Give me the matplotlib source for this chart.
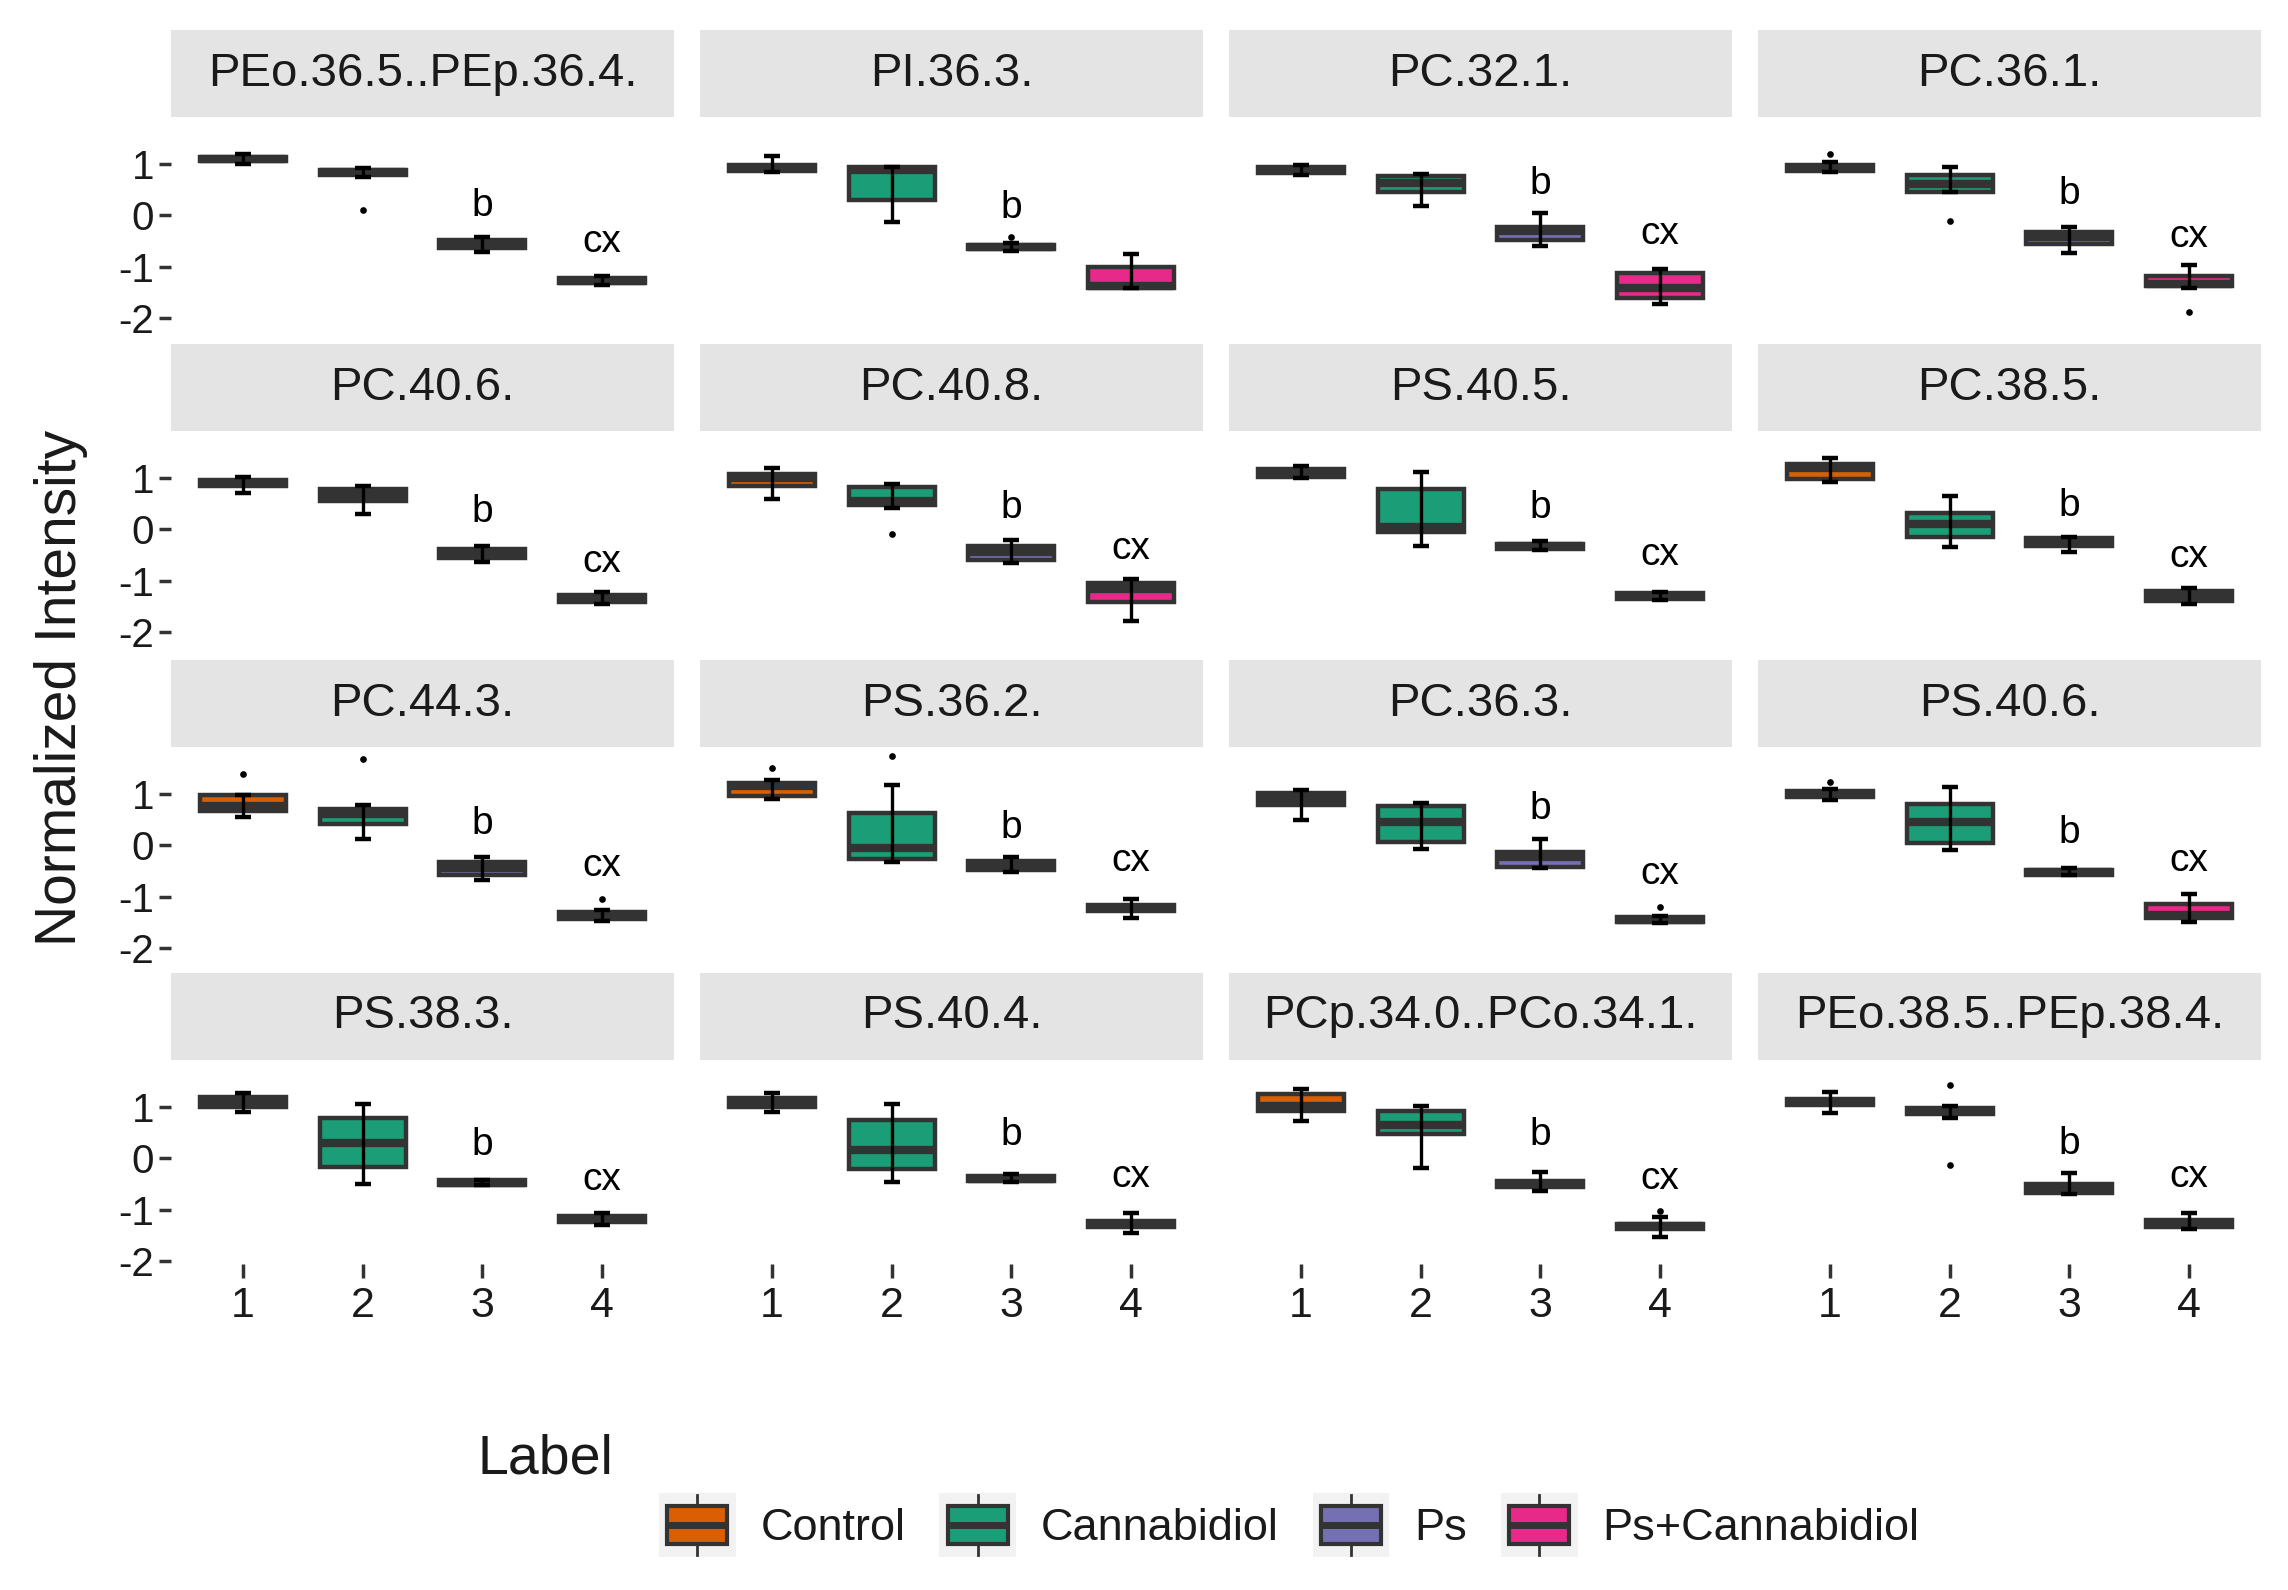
import matplotlib
matplotlib.use("Agg")
import matplotlib.pyplot as plt
from matplotlib.patches import Rectangle, Patch
from matplotlib.lines import Line2D
from matplotlib.legend_handler import HandlerBase

plt.rcParams['font.family'] = ['Liberation Sans', 'DejaVu Sans']
plt.rcParams['axes.unicode_minus'] = False

# ---------------- data ----------------
PANELS = ["PEo.36.5..PEp.36.4.", "PI.36.3.", "PC.32.1.", "PC.36.1.",
          "PC.40.6.", "PC.40.8.", "PS.40.5.", "PC.38.5.",
          "PC.44.3.", "PS.36.2.", "PC.36.3.", "PS.40.6.",
          "PS.38.3.", "PS.40.4.", "PCp.34.0..PCo.34.1.", "PEo.38.5..PEp.38.4."]
GROUPS = ["Control", "Cannabidiol", "Ps", "Ps+Cannabidiol"]
GROUP_COLORS = ["#D95F02", "#1B9E77", "#7570B3", "#E7298A"]
X_TICKS = [1, 2, 3, 4]
Y_TICKS = [1, 0, -1, -2]

Q1 = [[1.06, 0.79, -0.64, -1.31], [0.86, 0.30, -0.66, -1.42], [0.82, 0.45, -0.48, -1.62], [0.86, 0.45, -0.55, -1.38],
      [0.85, 0.56, -0.55, -1.42], [0.84, 0.47, -0.60, -1.42], [1.03, -0.05, -0.38, -1.35], [0.98, -0.15, -0.33, -1.40],
      [0.67, 0.42, -0.58, -1.43], [0.97, -0.26, -0.48, -1.28], [0.78, 0.06, -0.43, -1.50], [0.94, 0.04, -0.57, -1.42],
      [1.00, -0.17, -0.52, -1.24], [1.01, -0.20, -0.44, -1.33], [0.92, 0.47, -0.55, -1.37], [1.05, 0.86, -0.68, -1.33]]
MEDIAN = [[1.10, 0.84, -0.56, -1.27], [0.93, 0.88, -0.61, -1.38], [0.88, 0.63, -0.31, -1.41], [0.93, 0.62, -0.43, -1.33],
          [0.91, 0.68, -0.47, -1.35], [1.00, 0.55, -0.45, -1.16], [1.10, 0.05, -0.33, -1.30], [1.20, 0.10, -0.25, -1.30],
          [0.77, 0.61, -0.45, -1.37], [1.15, -0.05, -0.38, -1.22], [0.90, 0.45, -0.23, -1.46], [1.00, 0.45, -0.52, -1.35],
          [1.10, 0.30, -0.47, -1.18], [1.10, 0.16, -0.40, -1.28], [1.02, 0.65, -0.50, -1.32], [1.10, 0.93, -0.58, -1.27]]
Q3 = [[1.14, 0.88, -0.48, -1.23], [0.98, 0.95, -0.57, -1.00], [0.94, 0.76, -0.22, -1.12], [0.99, 0.78, -0.32, -1.18],
      [0.97, 0.79, -0.39, -1.28], [1.08, 0.82, -0.32, -1.04], [1.18, 0.78, -0.28, -1.25], [1.28, 0.32, -0.17, -1.20],
      [0.98, 0.72, -0.32, -1.30], [1.22, 0.64, -0.30, -1.16], [1.03, 0.76, -0.13, -1.40], [1.07, 0.80, -0.47, -1.15],
      [1.19, 0.78, -0.42, -1.13], [1.17, 0.74, -0.35, -1.23], [1.25, 0.92, -0.44, -1.27], [1.15, 0.99, -0.50, -1.21]]
WHISKER_LO = [[1.01, 0.75, -0.71, -1.35], [0.85, -0.12, -0.70, -1.42], [0.78, 0.18, -0.59, -1.72], [0.84, 0.45, -0.74, -1.42],
              [0.72, 0.31, -0.63, -1.45], [0.60, 0.41, -0.65, -1.78], [1.00, -0.33, -0.40, -1.38], [0.92, -0.35, -0.45, -1.45],
              [0.55, 0.13, -0.67, -1.48], [0.90, -0.32, -0.52, -1.41], [0.49, -0.07, -0.45, -1.52], [0.89, -0.09, -0.58, -1.49],
              [0.91, -0.50, -0.52, -1.30], [0.91, -0.46, -0.46, -1.45], [0.73, -0.18, -0.63, -1.53], [0.88, 0.79, -0.70, -1.37]]
WHISKER_HI = [[1.19, 0.93, -0.42, -1.18], [1.16, 0.95, -0.53, -0.75], [0.98, 0.80, 0.04, -1.04], [1.05, 0.94, -0.23, -0.97],
              [1.03, 0.84, -0.33, -1.23], [1.19, 0.88, -0.20, -0.96], [1.24, 1.12, -0.22, -1.22], [1.39, 0.65, -0.14, -1.15],
              [0.98, 0.78, -0.23, -1.26], [1.27, 1.17, -0.23, -1.04], [1.08, 0.82, 0.12, -1.38], [1.10, 1.13, -0.45, -0.94],
              [1.28, 1.06, -0.42, -1.06], [1.28, 1.07, -0.30, -1.06], [1.36, 1.02, -0.26, -1.14], [1.30, 1.02, -0.28, -1.07]]
OUTLIERS = [[[], [0.10], [], []], [[], [], [-0.42], []], [[], [], [], []], [[1.20], [-0.10], [], [-1.88]],
            [[], [], [], []], [[], [-0.08], [], []], [[], [], [], []], [[], [], [], []],
            [[1.39], [1.68], [], [-1.04]], [[1.52], [1.74], [], []], [[], [], [], [-1.20]], [[1.23], [], [], []],
            [[], [], [], []], [[], [], [], []], [[], [], [], [-1.03]], [[], [1.43, -0.13], [], []]]
# significance letters: y positions above groups 3 ("b") and 4 ("cx"); None = no letter
B_Y = [0.18, 0.15, 0.62, 0.42, 0.34, 0.42, 0.42, 0.45, 0.42, 0.34, 0.72, 0.25, 0.26, 0.46, 0.46, 0.29]
CX_Y = [-0.52, None, -0.37, -0.43, -0.64, -0.38, -0.50, -0.53, -0.41, -0.30, -0.56, -0.30, -0.43, -0.37, -0.40, -0.37]

# ---------------- layout ----------------
W, H = 2288, 1590
fig = plt.figure(figsize=(W / 100, H / 100), dpi=100)
fig.patch.set_facecolor("white")

COL_LEFT = [171, 700, 1229, 1758]
PANEL_W = 503
PANEL_TOP = [117, 431, 747, 1060]
PANEL_H = 204
STRIP_H = 87
YLIM = (-2.06, 1.92)
XLIM = (0.4, 4.6)
DARK = "#333333"
TXT = "#1A1A1A"


def frect(left, top, w, h):
    return [left / W, 1 - (top + h) / H, w / W, h / H]


for i, name in enumerate(PANELS):
    r, c = divmod(i, 4)
    # strip
    sax = fig.add_axes(frect(COL_LEFT[c], PANEL_TOP[r] - STRIP_H, PANEL_W, STRIP_H))
    sax.set_facecolor("#E4E4E4")
    sax.set_xticks([])
    sax.set_yticks([])
    for s in sax.spines.values():
        s.set_visible(False)
    sax.text(0.5, 0.5, name, ha="center", va="center", fontsize=34, color=TXT,
             transform=sax.transAxes)

    ax = fig.add_axes(frect(COL_LEFT[c], PANEL_TOP[r], PANEL_W, PANEL_H))
    ax.set_facecolor("white")
    for s in ax.spines.values():
        s.set_visible(False)

    stats = []
    for g in range(4):
        stats.append(dict(med=MEDIAN[i][g], q1=Q1[i][g], q3=Q3[i][g],
                          whislo=WHISKER_LO[i][g], whishi=WHISKER_HI[i][g],
                          fliers=OUTLIERS[i][g], label=GROUPS[g]))
    bp = ax.bxp(stats, positions=X_TICKS, widths=0.72, patch_artist=True,
                showcaps=False, manage_ticks=False,
                boxprops=dict(edgecolor=DARK, linewidth=3.2),
                medianprops=dict(color=DARK, linewidth=6, solid_capstyle="butt"),
                whiskerprops=dict(color="black", linewidth=0),
                flierprops=dict(marker="o", markersize=3.8, markerfacecolor="black",
                                markeredgecolor="black"))
    for patch, col in zip(bp["boxes"], GROUP_COLORS):
        patch.set_facecolor(col)
        patch.set_zorder(2)
    for med in bp["medians"]:
        med.set_zorder(2.5)

    meds = MEDIAN[i]
    lo_err = [m - lo for m, lo in zip(meds, WHISKER_LO[i])]
    hi_err = [hi - m for m, hi in zip(meds, WHISKER_HI[i])]
    ax.errorbar(X_TICKS, meds, yerr=[lo_err, hi_err], fmt="none", ecolor="black",
                elinewidth=2.4, capsize=6, capthick=3.2, zorder=3)

    if B_Y[i] is not None:
        ax.text(X_TICKS[2], B_Y[i], "b", ha="center", va="center", fontsize=28, color="black")
    if CX_Y[i] is not None:
        ax.text(X_TICKS[3], CX_Y[i], "cx", ha="center", va="center", fontsize=28, color="black")

    ax.set_xlim(*XLIM)
    ax.set_ylim(*YLIM)
    ax.set_yticks(Y_TICKS)
    ax.set_xticks(X_TICKS)
    if c == 0:
        ax.set_yticklabels([str(t) for t in Y_TICKS])
        ax.tick_params(axis="y", length=9, width=2.5, color=DARK, pad=3,
                       labelsize=29, labelcolor=TXT)
    else:
        ax.tick_params(axis="y", length=0, labelleft=False)
    if r == 3:
        ax.set_xticklabels([str(t) for t in X_TICKS])
        ax.tick_params(axis="x", length=10, width=2.5, color=DARK, pad=6,
                       labelsize=31, labelcolor=TXT)
    else:
        ax.tick_params(axis="x", length=0, labelbottom=False)

fig.text(61 / W, 1 - 688 / H, "Normalized Intensity", rotation=90, ha="center",
         va="center", fontsize=41, color=TXT)


# ---------------- legend ----------------
class BoxKeyHandler(HandlerBase):
    def create_artists(self, legend, orig_handle, xdescent, ydescent, width, height,
                       fontsize, trans):
        col = orig_handle.get_facecolor()
        x0, y0 = -xdescent, -ydescent
        bg = Rectangle((x0, y0), width, height, facecolor="#F2F2F2", edgecolor="none",
                       transform=trans)
        bx = Rectangle((x0 + width * 0.11, y0 + height * 0.2), width * 0.78, height * 0.6,
                       facecolor=col, edgecolor=DARK, linewidth=3, transform=trans)
        med = Line2D([x0 + width * 0.11, x0 + width * 0.89], [y0 + height * 0.5] * 2,
                     color=DARK, linewidth=5, solid_capstyle="butt", transform=trans)
        wt = Line2D([x0 + width / 2] * 2, [y0 + height * 0.8, y0 + height * 0.97],
                    color=DARK, linewidth=2, transform=trans)
        wb = Line2D([x0 + width / 2] * 2, [y0 + height * 0.03, y0 + height * 0.2],
                    color=DARK, linewidth=2, transform=trans)
        return [bg, bx, med, wt, wb]


handles = [Patch(facecolor=c) for c in GROUP_COLORS]
fig.legend(handles, GROUPS, handler_map={Patch: BoxKeyHandler()}, ncol=4,
           frameon=False, fontsize=32.5, handlelength=1.7, handleheight=1.8,
           handletextpad=0.55, columnspacing=0.75, borderpad=0, borderaxespad=0,
           loc="center left", bbox_to_anchor=(659 / W, 1 - 1525 / H),
           labelcolor=TXT)
fig.text(477 / W, 1 - 1459 / H, "Label", ha="left", va="center", fontsize=40, color=TXT)

fig.savefig("out.png", dpi=100, facecolor="white")
